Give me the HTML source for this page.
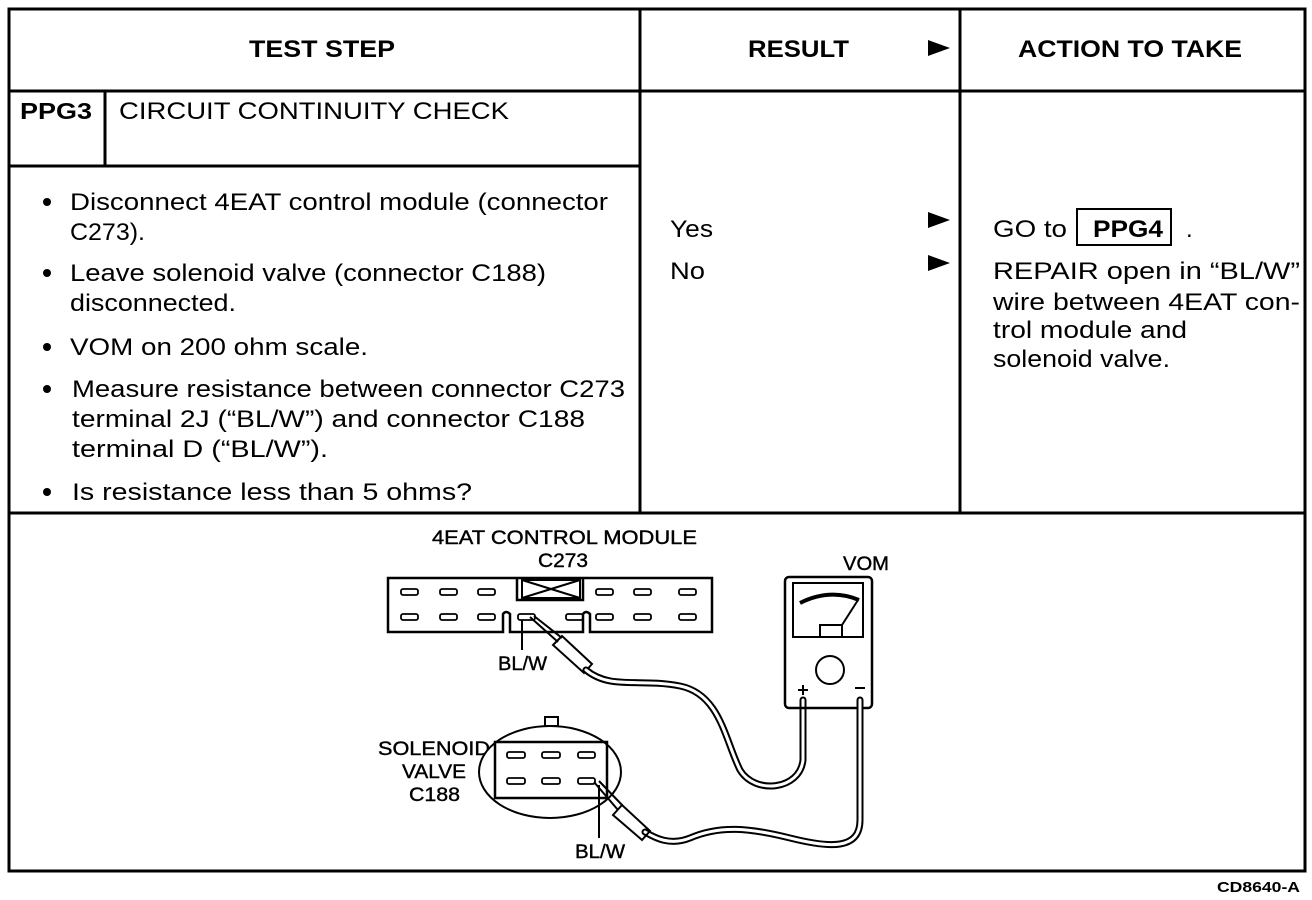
<!DOCTYPE html>
<html><head><meta charset="utf-8"><style>
html,body{margin:0;padding:0;background:#fff;}
svg{display:block;}
text{font-family:"Liberation Sans",Arial,sans-serif;fill:#000;}
.b{font-weight:bold;}
</style></head><body>
<svg width="1312" height="900" viewBox="0 0 1312 900" xmlns="http://www.w3.org/2000/svg">
<g stroke="#000" fill="none">
<rect x="9" y="9" width="1296" height="862" stroke-width="3"/>
<line x1="9" y1="91" x2="1305" y2="91" stroke-width="3"/>
<line x1="640" y1="9" x2="640" y2="513" stroke-width="3"/>
<line x1="960" y1="9" x2="960" y2="513" stroke-width="3"/>
<line x1="9" y1="513" x2="1305" y2="513" stroke-width="3"/>
<line x1="9" y1="166" x2="640" y2="166" stroke-width="3"/>
<line x1="105" y1="91" x2="105" y2="166" stroke-width="3"/>
</g>
<g fill="#000">
<polygon points="928,40 950,48 928,56"/>
<polygon points="928,212 950,220 928,228"/>
<polygon points="928,255 950,263 928,271"/>
<circle cx="47" cy="202" r="4"/>
<circle cx="47" cy="273" r="4"/>
<circle cx="47" cy="347" r="4"/>
<circle cx="47" cy="389" r="4"/>
<circle cx="47" cy="492" r="4"/>
</g>
<text class="b" x="249" y="57" font-size="24" textLength="146" lengthAdjust="spacingAndGlyphs">TEST STEP</text>
<text class="b" x="748" y="57" font-size="24" textLength="101" lengthAdjust="spacingAndGlyphs">RESULT</text>
<text class="b" x="1018" y="57" font-size="24" textLength="224" lengthAdjust="spacingAndGlyphs">ACTION TO TAKE</text>
<text class="b" x="20" y="119" font-size="23" textLength="72" lengthAdjust="spacingAndGlyphs">PPG3</text>
<text x="119" y="119" font-size="24" textLength="390" lengthAdjust="spacingAndGlyphs">CIRCUIT CONTINUITY CHECK</text>
<g font-size="24">
<text x="70" y="210" textLength="538" lengthAdjust="spacingAndGlyphs">Disconnect 4EAT control module (connector</text>
<text x="70" y="240" textLength="75" lengthAdjust="spacingAndGlyphs">C273).</text>
<text x="70" y="281" textLength="476" lengthAdjust="spacingAndGlyphs">Leave solenoid valve (connector C188)</text>
<text x="70" y="311" textLength="166" lengthAdjust="spacingAndGlyphs">disconnected.</text>
<text x="70" y="355" textLength="298" lengthAdjust="spacingAndGlyphs">VOM on 200 ohm scale.</text>
<text x="72" y="397" textLength="553" lengthAdjust="spacingAndGlyphs">Measure resistance between connector C273</text>
<text x="72" y="427" textLength="513" lengthAdjust="spacingAndGlyphs">terminal 2J (“BL/W”) and connector C188</text>
<text x="72" y="457" textLength="256" lengthAdjust="spacingAndGlyphs">terminal D (“BL/W”).</text>
<text x="72" y="500" textLength="400" lengthAdjust="spacingAndGlyphs">Is resistance less than 5 ohms?</text>
<text x="670" y="237" textLength="43" lengthAdjust="spacingAndGlyphs">Yes</text>
<text x="670" y="279" textLength="35" lengthAdjust="spacingAndGlyphs">No</text>
<text x="993" y="237" textLength="74" lengthAdjust="spacingAndGlyphs">GO to</text>
<text class="b" x="1093" y="237" textLength="70" lengthAdjust="spacingAndGlyphs">PPG4</text>
<text x="1186" y="237">.</text>
<text x="993" y="279" textLength="307" lengthAdjust="spacingAndGlyphs">REPAIR open in “BL/W”</text>
<text x="993" y="310" textLength="307" lengthAdjust="spacingAndGlyphs">wire between 4EAT con-</text>
<text x="993" y="338" textLength="194" lengthAdjust="spacingAndGlyphs">trol module and</text>
<text x="993" y="367" textLength="177" lengthAdjust="spacingAndGlyphs">solenoid valve.</text>
</g>
<rect x="1077" y="209" width="94" height="36" fill="none" stroke="#000" stroke-width="2"/>

<g font-size="19" stroke="#000" stroke-width="0.4">
<text x="432" y="544" textLength="265" lengthAdjust="spacingAndGlyphs">4EAT CONTROL MODULE</text>
<text x="538" y="567" textLength="50" lengthAdjust="spacingAndGlyphs">C273</text>
<text x="843" y="570" textLength="46" lengthAdjust="spacingAndGlyphs">VOM</text>
<text x="498" y="670" textLength="49" lengthAdjust="spacingAndGlyphs">BL/W</text>
<text x="378" y="755" textLength="112" lengthAdjust="spacingAndGlyphs">SOLENOID</text>
<text x="402" y="778" textLength="64" lengthAdjust="spacingAndGlyphs">VALVE</text>
<text x="409" y="801" textLength="51" lengthAdjust="spacingAndGlyphs">C188</text>
<text x="575" y="858" textLength="50" lengthAdjust="spacingAndGlyphs">BL/W</text>
</g>
<text class="b" x="1217" y="892" font-size="15" textLength="83" lengthAdjust="spacingAndGlyphs">CD8640-A</text>
<g stroke="#000" fill="none" stroke-width="2">
<path d="M388,578 H712 V632 H590 V614 Q586,610 583,614 V632 H510 V614 Q506,610 503,614 V632 H388 Z" stroke-width="2.5"/>
<path d="M517,578 V600 H583 V578" stroke-width="2.5"/>
<rect x="522" y="580" width="58" height="18"/>
<line x1="522" y1="580" x2="580" y2="598"/><line x1="522" y1="598" x2="580" y2="580"/>
<g stroke-width="1.8">
<rect x="401" y="589" width="17" height="6" rx="2"/><rect x="440" y="589" width="17" height="6" rx="2"/><rect x="478" y="589" width="17" height="6" rx="2"/>
<rect x="596" y="589" width="17" height="6" rx="2"/><rect x="634" y="589" width="17" height="6" rx="2"/><rect x="679" y="589" width="17" height="6" rx="2"/>
<rect x="401" y="614" width="17" height="6" rx="2"/><rect x="440" y="614" width="17" height="6" rx="2"/><rect x="478" y="614" width="17" height="6" rx="2"/>
<rect x="518" y="614" width="17" height="6" rx="2"/><rect x="566" y="614" width="17" height="6" rx="2"/>
<rect x="596" y="614" width="17" height="6" rx="2"/><rect x="634" y="614" width="17" height="6" rx="2"/><rect x="679" y="614" width="17" height="6" rx="2"/>
</g>
<line x1="522" y1="620" x2="522" y2="650"/>
<path d="M530,617 L558,642 M534,616 L562,638"/>
<path d="M553,645 L562,636 L592,664 L584,673 Z"/>
<path d="M586,670 C610,690 640,678 680,686 C720,694 725,740 740,770 C755,795 800,790 803,760 V700" stroke-width="7" stroke-linecap="round"/>
<path d="M586,670 C610,690 640,678 680,686 C720,694 725,740 740,770 C755,795 800,790 803,760 V700" stroke="#fff" stroke-width="3" stroke-linecap="round"/>
<rect x="785" y="577" width="87" height="131" rx="4" stroke-width="2.5"/>
<rect x="793" y="583" width="70" height="54"/>
<path d="M800,603 Q830,588 859,600" stroke-width="4"/>
<rect x="820" y="625" width="22" height="12"/>
<line x1="842" y1="625" x2="858" y2="600"/>
<circle cx="830" cy="670" r="14"/>
<line x1="803" y1="685" x2="803" y2="695"/><line x1="798" y1="690" x2="808" y2="690"/>
<line x1="855" y1="688" x2="865" y2="688"/>
<path d="M860,700 V820 C860,850 830,848 790,838 C750,828 720,825 690,838 C670,846 655,838 645,832" stroke-width="7" stroke-linecap="round"/>
<path d="M860,700 V820 C860,850 830,848 790,838 C750,828 720,825 690,838 C670,846 655,838 645,832" stroke="#fff" stroke-width="3" stroke-linecap="round"/>
<rect x="545" y="717" width="13" height="9"/>
<ellipse cx="550" cy="772" rx="71" ry="46" fill="#fff"/>
<rect x="495" y="742" width="112" height="56" stroke-width="2.5"/>
<g stroke-width="1.8">
<rect x="507" y="752" width="18" height="6" rx="2"/><rect x="542" y="752" width="18" height="6" rx="2"/><rect x="578" y="752" width="17" height="6" rx="2"/>
<rect x="507" y="778" width="18" height="6" rx="2"/><rect x="542" y="778" width="18" height="6" rx="2"/><rect x="578" y="778" width="17" height="6" rx="2"/>
</g>
<line x1="599" y1="785" x2="599" y2="838"/>
<path d="M594,782 L618,810 M599,781 L623,806"/>
<path d="M613,815 L622,805 L650,831 L642,840 Z"/>
</g>
</svg>
</body></html>
